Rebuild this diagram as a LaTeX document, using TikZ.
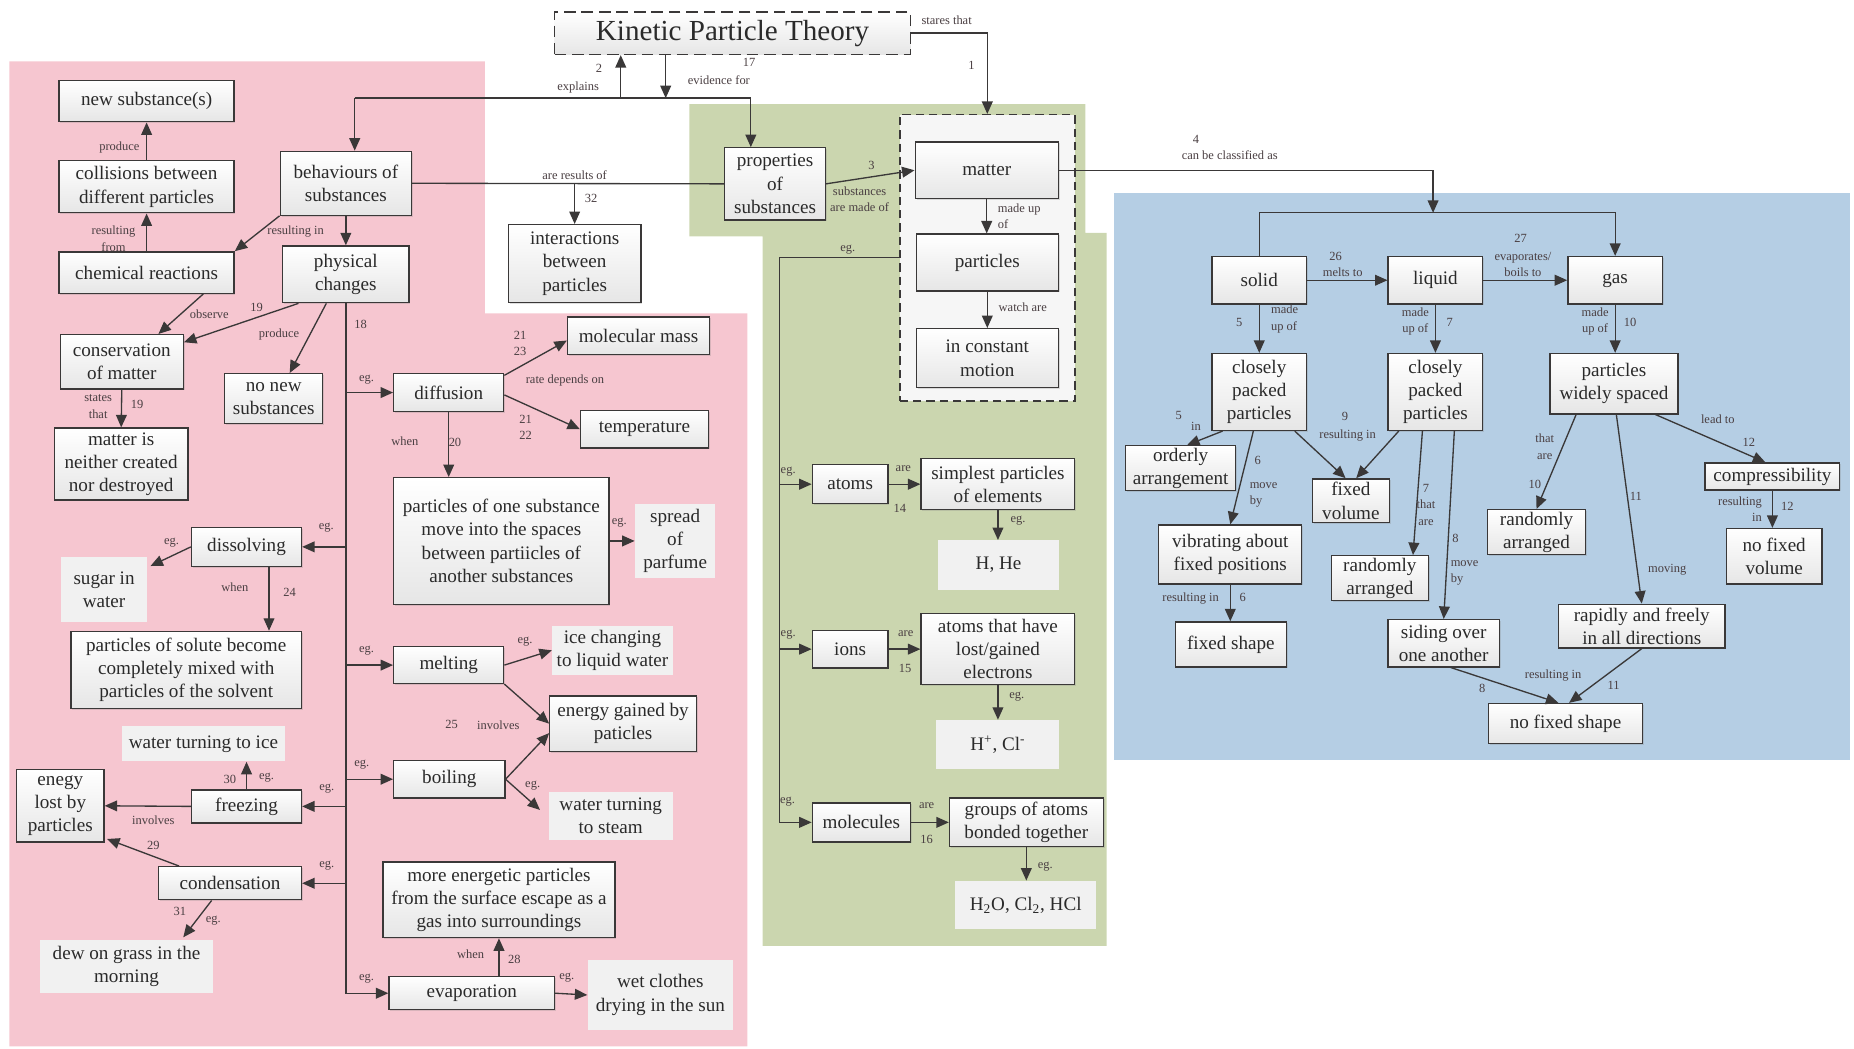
\documentclass[tikz,border=0pt]{standalone}
\usepackage{fontspec}
\setmainfont{Liberation Serif}
\usetikzlibrary{arrows.meta,calc,shadows}
\definecolor{KPTPink}{HTML}{F6C6D0}
\definecolor{KPTGreen}{HTML}{CBD6AF}
\definecolor{KPTBlue}{HTML}{B5CEE4}
\definecolor{KPTInk}{HTML}{3A3838}
\definecolor{KPTText}{HTML}{2A2A2A}
\definecolor{KPTLabel}{HTML}{4A3F42}
\definecolor{KPTPaper}{HTML}{E6E6E6}
\definecolor{KPTPlain}{HTML}{F1F1F1}
\definecolor{KPTCore}{HTML}{F6F6F6}
\newcommand{\kptfont}{\fontsize{11.5}{14}\selectfont}
\newcommand{\kptsmall}{\fontsize{7.5}{10}\selectfont}
\tikzset{
  kptbox/.style={
    draw=KPTInk,
    line width=0.8pt,
    top color=white,
    bottom color=KPTPaper,
    align=center,
    inner sep=1pt,
    font=\kptfont,
    text=KPTText,
    drop shadow={shadow xshift=0.8pt,shadow yshift=-0.8pt,opacity=0.25}
  },
  kptplain/.style={
    fill=KPTPlain,
    align=center,
    inner sep=1pt,
    font=\kptfont,
    text=KPTText
  },
  kpttitle/.style={
    draw=KPTInk,
    dash pattern=on 7pt off 3.5pt,
    line width=0.9pt,
    top color=white,
    bottom color=KPTPaper,
    font=\fontsize{17.5}{20}\selectfont,
    text=KPTText
  },
  kptgroup/.style={draw=KPTInk,dash pattern=on 5pt off 3pt,line width=0.9pt,fill=KPTCore},
  kptflow/.style={-{Triangle[length=7.5pt,width=6.5pt]},draw=KPTInk,line width=0.8pt},
  kptline/.style={draw=KPTInk,line width=0.8pt},
  kptlbl/.style={font=\kptsmall,text=KPTLabel,inner sep=0.5pt,align=center},
  sz/.style 2 args={minimum width=#1*0.025cm,minimum height=#2*0.025cm}
}

\begin{document}
\begin{tikzpicture}[x=0.025cm,y=-0.025cm]
  \useasboundingbox (0,0) rectangle (1568,887);
  % zones
  \fill[KPTPink] (8,52) -- (410,52) -- (410,265) -- (632,265) -- (632,885) -- (8,885) -- cycle;
  \fill[KPTGreen] (583,88) -- (918,88) -- (918,197) -- (936,197) -- (936,800) -- (645,800) -- (645,200) -- (583,200) -- cycle;
  \fill[KPTBlue] (942,163) rectangle (1565,643);

  \node[kpttitle,sz={301}{36}] (kpt) at (619.5,28) {Kinetic Particle Theory};
  \node[kptgroup,sz={148}{242}] (core) at (835,218) {};

  % behaviours of substances
  \node[kptbox,sz={148}{35}] (newsub) at (124,85.5) {new substance(s)};
  \node[kptbox,sz={148}{44}] (collide) at (124,158) {collisions between\\different particles};
  \node[kptbox,sz={148}{35}] (chemreact) at (124,230.5) {chemical reactions};
  \node[kptbox,sz={111}{54}] (behav) at (292.5,155) {behaviours of\\substances};
  \node[kptbox,sz={107}{48}] (physch) at (292.5,232) {physical\\changes};
  \node[kptbox,sz={112}{66}] (interact) at (486,223) {interactions\\between\\particles};
  \node[kptbox,sz={104}{46}] (conserv) at (103,306) {conservation\\of matter};
  \node[kptbox,sz={83}{42}] (nonew) at (231.5,337) {no new\\substances};
  \node[kptbox,sz={113}{61}] (neither) at (102.5,392.5) {matter is\\neither created\\nor destroyed};
  \node[kptbox,sz={93}{33}] (dissolv) at (208.5,462.5) {dissolving};
  \node[kptplain,sz={72}{55}] (sugar) at (88,498.5) {sugar in\\water};
  \node[kptbox,sz={195}{65}] (solute) at (157.5,566.5) {particles of solute become\\completely mixed with\\particles of the solvent};
  \node[kptplain,sz={138}{30}] (iceturn) at (172,629) {water turning to ice};
  \node[kptbox,sz={93}{28}] (freez) at (208.5,682) {freezing};
  \node[kptbox,sz={74}{61}] (enlost) at (51,681.5) {enegy\\lost by\\particles};
  \node[kptbox,sz={121}{28}] (condens) at (194.5,747) {condensation};
  \node[kptplain,sz={146}{45}] (dew) at (107,817.5) {dew on grass in the\\morning};
  \node[kptbox,sz={93}{32}] (diffus) at (379.5,332) {diffusion};
  \node[kptbox,sz={120}{32}] (molmass) at (540,284) {molecular mass};
  \node[kptbox,sz={108}{32}] (temp) at (545,363) {temperature};
  \node[kptbox,sz={182}{107}] (moveinto) at (424,457.5) {particles of one substance\\move into the spaces\\between partiicles of\\another substances};
  \node[kptplain,sz={68}{63}] (parfume) at (571,457.5) {spread\\of\\parfume};
  \node[kptbox,sz={93}{31}] (melt) at (379.5,562.5) {melting};
  \node[kptplain,sz={102}{41}] (icechg) at (518,550) {ice changing\\to liquid water};
  \node[kptbox,sz={124}{47}] (engain) at (527,612) {energy gained by\\paticles};
  \node[kptbox,sz={94}{32}] (boil) at (380,659) {boiling};
  \node[kptplain,sz={105}{40}] (steam) at (516.5,690) {water turning\\to steam};
  \node[kptbox,sz={196}{64}] (energetic) at (422,761) {more energetic particles\\from the surface escape as a\\gas into surroundings};
  \node[kptbox,sz={140}{28}] (evap) at (399,840) {evaporation};
  \node[kptplain,sz={123}{59}] (wetcloth) at (558.5,841.5) {wet clothes\\drying in the sun};

  % properties of substances
  \node[kptbox,sz={85}{61}] (props) at (655.5,155.5) {properties\\of\\substances};
  \node[kptbox,sz={121}{48}] (matter) at (834.5,144) {matter};
  \node[kptbox,sz={120}{48}] (partcl) at (835,222) {particles};
  \node[kptbox,sz={120}{50}] (motion) at (835,303) {in constant\\motion};
  \node[kptbox,sz={64}{33}] (atoms) at (719,409.5) {atoms};
  \node[kptbox,sz={130}{43}] (simplest) at (844,409.5) {simplest particles\\of elements};
  \node[kptplain,sz={103}{42}] (hhe) at (844.5,478) {H, He};
  \node[kptbox,sz={64}{32}] (ions) at (719,549) {ions};
  \node[kptbox,sz={130}{60}] (lostgain) at (844,549) {atoms that have\\lost/gained\\electrons};
  \node[kptplain,sz={104}{41}] (hcl) at (844,629.5) {H\textsuperscript{+}, Cl\textsuperscript{-}};
  \node[kptbox,sz={83}{33}] (molec) at (728.5,695.5) {molecules};
  \node[kptbox,sz={130}{41}] (groups) at (868,695.5) {groups of atoms\\bonded together};
  \node[kptplain,sz={119}{41}] (hwater) at (867.5,765.5) {H\textsubscript{2}O, Cl\textsubscript{2}, HCl};

  % states of matter
  \node[kptbox,sz={80}{40}] (solid) at (1065,237) {solid};
  \node[kptbox,sz={80}{40}] (liquid) at (1214,237) {liquid};
  \node[kptbox,sz={80}{40}] (gas) at (1366,237) {gas};
  \node[kptbox,sz={80}{65}] (closeS) at (1065,331.5) {closely\\packed\\particles};
  \node[kptbox,sz={80}{65}] (closeL) at (1214,331.5) {closely\\packed\\particles};
  \node[kptbox,sz={108}{51}] (wide) at (1365,324.5) {particles\\widely spaced};
  \node[kptbox,sz={93}{38}] (orderly) at (998.5,396) {orderly\\arrangement};
  \node[kptbox,sz={65}{37}] (fixvol) at (1142.5,423.5) {fixed\\volume};
  \node[kptbox,sz={114}{23}] (compress) at (1499,403) {compressibility};
  \node[kptbox,sz={121}{50}] (vibr) at (1040.5,469) {vibrating about\\fixed positions};
  \node[kptbox,sz={94}{38}] (fixshape) at (1041,545) {fixed shape};
  \node[kptbox,sz={82}{38}] (randL) at (1167,489) {randomly\\arranged};
  \node[kptbox,sz={94}{40}] (slide) at (1221,544) {siding over\\one another};
  \node[kptbox,sz={83}{38}] (randG) at (1299.5,450) {randomly\\arranged};
  \node[kptbox,sz={81}{47}] (nofixvol) at (1500.5,470.5) {no fixed\\volume};
  \node[kptbox,sz={141}{37}] (rapid) at (1388.5,529.5) {rapidly and freely\\in all directions};
  \node[kptbox,sz={130}{34}] (nofixshape) at (1324,612) {no fixed shape};

  % top links
  \coordinate (busL) at (300,83);
  \coordinate (busR) at (635,83);
  \coordinate (upX) at (525,83);
  \coordinate (dnX) at (563,83);
  \draw[kptflow] (busL) -- (busR) -- (busR |- props.north);
  \draw[kptflow] (busL) -- (busL |- behav.north);
  \draw[kptflow] (upX) -- (upX |- kpt.south);
  \draw[kptflow] (dnX |- kpt.south) -- (dnX);
  \node[kptlbl] (t2) at (506.6,58) {2};
  \node[kptlbl] (texpl) at (489,74) {explains};
  \node[kptlbl] (t17) at (633.5,53) {17};
  \node[kptlbl] (tevid) at (608,68) {evidence for};
  \draw[kptflow] (kpt.east) -| (core.north);
  \node[kptlbl] (tstares) at (800.6,17.5) {stares that};
  \node[kptlbl] (t1) at (821.6,55) {1};
  \draw[kptline] (behav.east) -- (props.west);
  \draw[kptflow] (interact.north |- behav.east) -- (interact.north);
  \node[kptlbl] (tres) at (486,148) {are results of};
  \node[kptlbl] (t32) at (500,168) {32};
  \draw[kptflow] (props.east) -- (matter.west);
  \node[kptlbl] (t3) at (737,140) {3};
  \node[kptlbl] (tmadeof) at (727,168.5) {substances\\are made of};
  \draw[kptflow] (matter.south) -- (matter.south |- partcl.north);
  \node[kptlbl,anchor=west,align=left] (tmadeup) at (843,183) {made up\\of};
  \draw[kptflow] (partcl.south) -- (partcl.south |- motion.north);
  \node[kptlbl] (twatch) at (865,260) {watch are};

  % green examples
  \coordinate (gtrunk) at (659,218);
  \draw[kptflow] (core.west) -- (gtrunk) |- (molec.west);
  \draw[kptflow] (gtrunk |- atoms.west) -- (atoms.west);
  \draw[kptflow] (gtrunk |- ions.west) -- (ions.west);
  \node[kptlbl] (teg1) at (717,211) {eg.};
  \node[kptlbl] (teg2) at (666.6,399) {eg.};
  \node[kptlbl] (teg3) at (666.6,537) {eg.};
  \node[kptlbl] (teg4) at (666,678) {eg.};
  \draw[kptflow] (atoms.east) -- (simplest.west);
  \node[kptlbl] (tare1) at (764,396) {are};
  \node[kptlbl] (t14) at (761,430) {14};
  \draw[kptflow] (simplest.south) -- (simplest.south |- hhe.north);
  \node[kptlbl] (teg5) at (861,440) {eg.};
  \draw[kptflow] (ions.east) -- (lostgain.west);
  \node[kptlbl] (tare2) at (766,535.6) {are};
  \node[kptlbl] (t15) at (765.5,565) {15};
  \draw[kptflow] (lostgain.south) -- (lostgain.south |- hcl.north);
  \node[kptlbl] (teg6) at (860,589) {eg.};
  \draw[kptflow] (molec.east) -- (groups.west);
  \node[kptlbl] (tare3) at (783.7,681.6) {are};
  \node[kptlbl] (t16) at (783.7,709.7) {16};
  \draw[kptflow] (groups.south) -- (groups.south |- hwater.north);
  \node[kptlbl] (teg7) at (884,733) {eg.};

  % states
  \coordinate (clsX) at (1212,180);
  \draw[kptflow] (matter.east) -| (clsX);
  \draw[kptflow] (solid.north) |- (gas.north |- clsX) -- (gas.north);
  \node[kptlbl] (t4) at (1011.5,117.6) {4};
  \node[kptlbl] (tclass) at (1040,131) {can be classified as};
  \draw[kptflow] (solid.east) -- (liquid.west);
  \node[kptlbl] (t26) at (1129.6,217) {26};
  \node[kptlbl] (tmelts) at (1135.6,230.6) {melts to};
  \draw[kptflow] (liquid.east) -- (gas.west);
  \node[kptlbl] (t27) at (1286,202) {27};
  \node[kptlbl] (tevap) at (1288,223.5) {evaporates/\\boils to};
  \draw[kptflow] (solid.south) -- (closeS.north);
  \node[kptlbl,anchor=west,align=left] (tmu1) at (1074,270) {made\\up of};
  \node[kptlbl] (t5a) at (1048,273) {5};
  \draw[kptflow] (liquid.south) -- (closeL.north);
  \node[kptlbl] (tmu2) at (1197,272) {made\\up of};
  \node[kptlbl] (t7a) at (1226,273) {7};
  \draw[kptflow] (gas.south) -- (gas.south |- wide.north);
  \node[kptlbl] (tmu3) at (1349,272) {made\\up of};
  \node[kptlbl] (t10a) at (1378.6,273) {10};
  \draw[kptflow] ($(closeS.south)+(-31,0)$) -- ($(orderly.north)+(5.5,0)$);
  \node[kptlbl] (t5b) at (997,351) {5};
  \node[kptlbl] (tin1) at (1011.5,361) {in};
  \draw[kptflow] ($(closeS.south)+(-5,0)$) -- (vibr.north);
  \node[kptlbl] (t6a) at (1063.7,389.6) {6};
  \node[kptlbl,anchor=west,align=left] (tmove1) at (1056,418.5) {move\\by};
  \draw[kptflow] ($(closeS.south)+(30,0)$) -- ($(fixvol.north)+(-4.5,0)$);
  \draw[kptflow] ($(closeL.south)+(-31,0)$) -- ($(fixvol.north)+(4.5,0)$);
  \node[kptlbl] (t9) at (1137.5,352.4) {9};
  \node[kptlbl] (tres9) at (1139.7,368.7) {resulting in};
  \draw[kptflow] ($(closeL.south)+(-11,0)$) -- ($(randL.north)+(28,0)$);
  \node[kptlbl] (t7b) at (1206,427) {7\\that\\are};
  \draw[kptflow] ($(closeL.south)+(16,0)$) -- (slide.north);
  \node[kptlbl] (t8a) at (1231,455) {8};
  \node[kptlbl,anchor=west,align=left] (tmove2) at (1226,484.5) {move\\by};
  \draw[kptflow] (vibr.south) -- (vibr.south |- fixshape.north);
  \node[kptlbl] (tres6) at (1007,506.6) {resulting in};
  \node[kptlbl] (t6b) at (1051,505) {6};
  \draw[kptflow] ($(wide.south)+(-32,0)$) -- (randG.north);
  \node[kptlbl] (tthat) at (1306.4,378) {that\\are};
  \node[kptlbl] (t10b) at (1298,409.4) {10};
  \draw[kptflow] ($(wide.south)+(2,0)$) -- (rapid.north);
  \node[kptlbl] (t11a) at (1383.6,420) {11};
  \node[kptlbl] (tmoving) at (1410,482) {moving};
  \draw[kptflow] ($(wide.south)+(35,0)$) -- ($(compress.north)+(-6,0)$);
  \node[kptlbl] (tlead) at (1452.8,354.6) {lead to};
  \node[kptlbl] (t12a) at (1479,374.4) {12};
  \draw[kptflow] (compress.south) -- (compress.south |- nofixvol.north);
  \node[kptlbl,anchor=east,align=right] (tres12) at (1491,430.5) {resulting\\in};
  \node[kptlbl] (t12b) at (1511.7,428) {12};
  \draw[kptflow] ($(slide.south)+(6,0)$) -- ($(nofixshape.north)+(-6,0)$);
  \draw[kptflow] (rapid.south) -- ($(nofixshape.north)+(3,0)$);
  \node[kptlbl] (tres11) at (1313.5,571) {resulting in};
  \node[kptlbl] (t8b) at (1253.5,582) {8};
  \node[kptlbl] (t11b) at (1364.6,580) {11};

  % behaviours side
  \draw[kptflow] (collide.north) -- (newsub.south);
  \node[kptlbl] (tprod1) at (101,125) {produce};
  \draw[kptflow] (chemreact.north) -- (collide.south);
  \node[kptlbl] (tfrom) at (96,202) {resulting\\from};
  \draw[kptflow] (behav.south west) -- (chemreact.north east);
  \node[kptlbl] (tresin) at (250,196) {resulting in};
  \draw[kptflow] (behav.south) -- (physch.north);
  \draw[kptflow] ($(chemreact.south)+(48,0)$) -- ($(conserv.north)+(31,0)$);
  \node[kptlbl] (tobs) at (177,266) {observe};
  \draw[kptflow] ($(physch.south west)+(14,0)$) -- ($(conserv.north east)+(0,7)$);
  \node[kptlbl] (t19a) at (217,260) {19};
  \draw[kptflow] ($(physch.south)+(-16.5,0)$) -- ($(nonew.north)+(13.5,0)$);
  \node[kptlbl] (tprod2) at (236,283) {produce};
  \draw[kptflow] (conserv.south) -- (neither.north);
  \node[kptlbl] (tstates) at (83,344) {states\\that};
  \node[kptlbl] (t19b) at (116,342) {19};

  % physical changes trunk
  \draw[kptflow] (physch.south) |- (evap.west);
  \node[kptlbl] (t18) at (305,274) {18};
  \draw[kptflow] (physch.south |- diffus.west) -- (diffus.west);
  \draw[kptflow] (physch.south |- melt.west) -- (melt.west);
  \draw[kptflow] (physch.south |- boil.west) -- (boil.west);
  \draw[kptflow] (physch.south |- dissolv.east) -- (dissolv.east);
  \draw[kptflow] (physch.south |- freez.east) -- (freez.east);
  \draw[kptflow] (physch.south |- condens.east) -- (condens.east);
  \node[kptlbl] (tegd) at (310,321) {eg.};
  \node[kptlbl] (tegm) at (310,550) {eg.};
  \node[kptlbl] (tegb) at (306,647) {eg.};
  \node[kptlbl] (tegv) at (310,828) {eg.};
  \node[kptlbl] (tegs) at (276,446.6) {eg.};
  \node[kptlbl] (tegf) at (276.3,666.7) {eg.};
  \node[kptlbl] (tegc) at (276.3,732) {eg.};

  % diffusion
  \draw[kptflow] ($(diffus.north east)+(0,2)$) -- ($(molmass.west)+(0,4)$);
  \node[kptlbl] (t2123) at (439.8,290.5) {21\\23};
  \node[kptlbl] (trate) at (477.8,322) {rate depends on};
  \draw[kptflow] ($(diffus.east)+(0,2)$) -- (temp.west);
  \node[kptlbl] (t2122) at (444.6,361.5) {21\\22};
  \draw[kptflow] (diffus.south) -- (diffus.south |- moveinto.north);
  \node[kptlbl] (twhen1) at (342.5,373.5) {when};
  \node[kptlbl] (t20) at (384.8,374.4) {20};
  \draw[kptflow] (moveinto.east) -- (parfume.west);
  \node[kptlbl] (tegp) at (523.8,442) {eg.};

  % dissolving
  \draw[kptflow] (dissolv.west) -- ($(sugar.north east)+(3,8)$);
  \node[kptlbl] (tegsu) at (145,459) {eg.};
  \draw[kptflow] ($(dissolv.south)+(19,0)$) coordinate (dsw) -- (dsw |- solute.north);
  \node[kptlbl] (twhen2) at (198.7,496.5) {when};
  \node[kptlbl] (t24) at (245,501) {24};

  % melting and boiling
  \draw[kptflow] (melt.east) -- (icechg.west);
  \node[kptlbl] (tegi) at (444,542.7) {eg.};
  \draw[kptflow] (melt.south east) -- (engain.west);
  \draw[kptflow] (boil.east) -- ($(engain.west)+(0,8)$);
  \node[kptlbl] (t25) at (382,613) {25};
  \node[kptlbl] (tinv1) at (421.4,613) {involves};
  \draw[kptflow] (boil.east) -- ($(steam.west)+(-7,-5)$);
  \node[kptlbl] (tegst) at (450.5,664.8) {eg.};

  % freezing and condensation
  \draw[kptflow] (freez.north) -- (freez.north |- iceturn.south);
  \node[kptlbl] (t30) at (194.5,658.8) {30};
  \node[kptlbl] (tegw) at (225.5,657.4) {eg.};
  \draw[kptflow] (freez.west) -- (enlost.east);
  \node[kptlbl] (tinv2) at (129.7,693.5) {involves};
  \draw[kptflow] ($(condens.north west)+(18,0)$) -- ($(enlost.south east)+(2,-3)$);
  \node[kptlbl] (t29) at (129.7,715) {29};
  \draw[kptflow] ($(condens.south)+(-15.5,0)$) -- ($(dew.north)+(48,-2)$);
  \node[kptlbl] (t31) at (152.2,771) {31};
  \node[kptlbl] (tegdw) at (180.4,778.6) {eg.};

  % evaporation
  \draw[kptflow] ($(evap.north)+(23,0)$) coordinate (evw) -- (evw |- energetic.south);
  \node[kptlbl] (twhen3) at (398,806.8) {when};
  \node[kptlbl] (t28) at (435,811) {28};
  \draw[kptflow] (evap.east) -- (wetcloth.west);
  \node[kptlbl] (tegwc) at (479.3,826.6) {eg.};
\end{tikzpicture}
\end{document}
